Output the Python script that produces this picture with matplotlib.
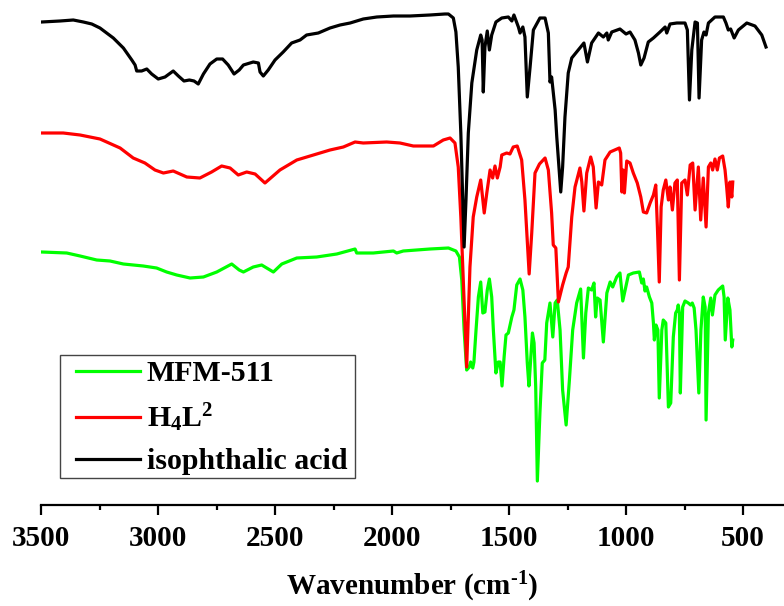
import matplotlib
matplotlib.use("Agg")
import matplotlib.pyplot as plt
from matplotlib.patches import Rectangle
from matplotlib.ticker import MultipleLocator

plt.rcParams['font.family'] = ['Liberation Serif', 'DejaVu Serif']
plt.rcParams['font.weight'] = 'bold'
plt.rcParams['mathtext.fontset'] = 'custom'
plt.rcParams['mathtext.rm'] = 'Liberation Serif:bold'
plt.rcParams['mathtext.it'] = 'Liberation Serif:bold'
plt.rcParams['mathtext.bf'] = 'Liberation Serif:bold'

# FT-IR spectra, stacked with vertical offsets (transmittance, a.u.)
iso_wn = [3497, 3419, 3362, 3319, 3283, 3248, 3191, 3148, 3112, 3098, 3091, 3070, 3048, 3027, 2999,
          2970, 2935, 2913, 2889, 2866, 2846, 2828, 2806, 2778, 2749, 2724, 2700, 2675, 2653, 2635,
          2593, 2571, 2564, 2550, 2529, 2500, 2465, 2429, 2393, 2365, 2315, 2265, 2222, 2179, 2123,
          2065, 1994, 1923, 1838, 1774, 1759, 1738, 1727, 1717, 1706, 1698, 1692, 1684, 1674, 1659,
          1638, 1621, 1615, 1610, 1603, 1593, 1584, 1574, 1556, 1531, 1503, 1488, 1479, 1460, 1453,
          1441, 1432, 1422, 1410, 1396, 1368, 1346, 1332, 1325, 1318, 1303, 1296, 1279, 1271, 1261,
          1247, 1232, 1211, 1180, 1165, 1147, 1118, 1097, 1082, 1076, 1061, 1026, 1000, 983, 962,
          947, 937, 923, 905, 883, 855, 833, 826, 812, 783, 748, 738, 729, 719, 705,
          695, 688, 677, 667, 658, 648, 620, 584, 573, 563, 553, 538, 520, 484, 449,
          420, 402]
iso_t = [494, 495, 496, 494, 492, 488, 478, 468, 456, 451, 445, 445, 447, 442, 437,
         439, 445, 440, 435, 436, 435, 432, 442, 452, 457, 457, 451, 442, 446, 451,
         454, 453, 444, 440, 446, 456, 464, 473, 476, 481, 483, 488, 491, 493, 497,
         499, 500, 500, 501, 502, 502, 498, 484, 449, 383, 316, 269, 316, 383, 433,
         466, 481, 476, 424, 469, 485, 466, 481, 494, 498, 499, 495, 501, 489, 483,
         489, 479, 419, 449, 486, 498, 498, 483, 434, 439, 406, 379, 324, 349, 399,
         443, 458, 464, 473, 454, 473, 483, 479, 483, 476, 484, 487, 482, 484, 476,
         463, 451, 458, 474, 478, 484, 489, 483, 492, 493, 493, 486, 416, 466, 494,
         493, 418, 476, 484, 481, 493, 499, 499, 493, 486, 487, 478, 486, 493, 490,
         481, 469]

h4l2_wn = [3497, 3405, 3333, 3248, 3162, 3106, 3056, 3013, 2977, 2935, 2877, 2821, 2771, 2728, 2692,
           2657, 2621, 2585, 2543, 2479, 2407, 2336, 2265, 2208, 2158, 2123, 2023, 1966, 1909, 1823,
           1781, 1752, 1731, 1717, 1706, 1681, 1667, 1653, 1638, 1621, 1612, 1606, 1595, 1581, 1570,
           1560, 1550, 1538, 1531, 1510, 1496, 1482, 1465, 1446, 1432, 1414, 1403, 1389, 1370, 1346,
           1332, 1318, 1311, 1300, 1289, 1271, 1256, 1247, 1232, 1218, 1197, 1189, 1180, 1168, 1151,
           1140, 1128, 1118, 1104, 1090, 1068, 1029, 1023, 1018, 1012, 1007, 997, 983, 969, 952,
           937, 926, 912, 897, 883, 873, 866, 858, 850, 841, 830, 819, 812, 802, 791,
           781, 772, 762, 748, 738, 726, 715, 705, 691, 681, 670, 658, 648, 638, 630,
           620, 610, 601, 587, 577, 570, 563, 556, 548, 544]
h4l2_t = [383, 383, 381, 377, 368, 358, 353, 346, 343, 345, 339, 338, 344, 350, 348,
          341, 344, 342, 333, 346, 356, 361, 366, 369, 374, 373, 374, 373, 370, 370,
          376, 378, 373, 349, 299, 149, 249, 299, 319, 336, 316, 303, 323, 346, 338,
          350, 338, 349, 361, 363, 362, 369, 370, 356, 316, 242, 283, 343, 352, 358,
          346, 303, 271, 268, 214, 231, 243, 249, 299, 329, 348, 334, 305, 343, 359,
          349, 308, 334, 331, 356, 364, 368, 363, 324, 346, 323, 355, 353, 343, 333,
          319, 304, 303, 313, 321, 331, 289, 234, 309, 326, 336, 316, 329, 306, 333,
          336, 236, 333, 336, 321, 351, 353, 306, 349, 296, 338, 289, 349, 353, 346,
          357, 346, 358, 360, 346, 329, 309, 334, 319, 334]

mfm_wn = [3497, 3390, 3333, 3262, 3205, 3148, 3063, 3006, 2963, 2920, 2863, 2806, 2749, 2685, 2653,
          2635, 2593, 2557, 2507, 2471, 2407, 2322, 2236, 2158, 2151, 2080, 1994, 1980, 1952, 1838,
          1759, 1727, 1712, 1702, 1692, 1681, 1670, 1664, 1655, 1650, 1641, 1631, 1621, 1612, 1603,
          1593, 1584, 1574, 1567, 1556, 1546, 1538, 1530, 1521, 1513, 1503, 1488, 1479, 1467, 1453,
          1441, 1432, 1422, 1415, 1407, 1400, 1393, 1386, 1379, 1368, 1358, 1347, 1339, 1325, 1313,
          1303, 1294, 1282, 1271, 1256, 1242, 1228, 1211, 1194, 1182, 1172, 1161, 1147, 1137, 1130,
          1123, 1111, 1097, 1082, 1068, 1057, 1040, 1026, 1014, 1004, 990, 969, 943, 933, 926,
          919, 912, 900, 890, 883, 879, 872, 864, 858, 847, 841, 830, 819, 809, 798,
          788, 781, 777, 772, 768, 758, 748, 734, 724, 717, 709, 701, 689, 680, 670,
          662, 658, 648, 638, 631, 620, 606, 587, 581, 576, 565, 556, 548, 544]
mfm_t = [264, 263, 260, 256, 255, 252, 250, 248, 244, 241, 238, 239, 244, 252, 246,
         244, 249, 251, 244, 252, 258, 259, 262, 267, 263, 263, 265, 263, 265, 267,
         268, 265, 259, 236, 186, 146, 149, 154, 148, 154, 186, 219, 234, 203, 204,
         226, 237, 219, 186, 143, 154, 154, 130, 159, 181, 183, 199, 206, 231, 237,
         226, 199, 153, 130, 159, 183, 173, 129, 35, 103, 153, 156, 193, 213, 179,
         213, 216, 186, 126, 91, 136, 186, 213, 227, 158, 203, 228, 226, 233, 199,
         218, 216, 174, 223, 234, 229, 239, 243, 215, 226, 241, 243, 244, 233, 237,
         225, 229, 219, 213, 193, 176, 191, 186, 118, 186, 196, 193, 109, 113, 179,
         203, 206, 211, 203, 123, 209, 215, 213, 211, 213, 208, 186, 123, 186, 219,
         209, 96, 203, 218, 201, 221, 226, 230, 219, 176, 218, 206, 169, 176]

labels = ["MFM-511", "H$_4$L$^2$", "isophthalic acid"]
colors = ["#00FF00", "#FF0000", "#000000"]

W, H = 784, 606
fig = plt.figure(figsize=(W / 100, H / 100), dpi=100)
ax = fig.add_axes([41 / W, 101 / H, 743 / W, 505 / H])

for wn, t, lab, c in zip([mfm_wn, h4l2_wn, iso_wn], [mfm_t, h4l2_t, iso_t], labels, colors):
    ax.plot(wn, t, color=c, lw=2.3, label=lab, solid_joinstyle='round')

ax.set_xlim(3500, 325)
ax.set_ylim(11, 516)

for s in ("left", "right", "top"):
    ax.spines[s].set_visible(False)
ax.spines["bottom"].set_linewidth(1.6)
ax.set_yticks([])
ax.xaxis.set_major_locator(MultipleLocator(500))
ax.xaxis.set_minor_locator(MultipleLocator(250))
ax.tick_params(axis='x', which='major', direction='out', length=7.5, width=1.6,
               labelsize=21, pad=7)
ax.tick_params(axis='x', which='minor', direction='out', length=3.8, width=1.6)
for lbl in ax.get_xticklabels():
    lbl.set_fontweight('bold')

ax.set_xlabel("Wavenumber (cm$^{\\text{-1}}$)", fontsize=21, fontweight='bold', labelpad=13)

# legend entries without their own frame; a plain box is drawn around them
leg = ax.legend(loc='upper left', bbox_to_anchor=(76 / W, 1 - 360 / H),
                bbox_transform=fig.transFigure, frameon=False,
                handlelength=2.15, handletextpad=0.22, labelspacing=0.48, borderpad=0,
                borderaxespad=0, prop={'weight': 'bold', 'size': 21.5})
for line in leg.get_lines():
    line.set_linewidth(2.3)
fig.patches.append(Rectangle((60 / W, 1 - 478 / H), 295 / W, 123 / H,
                             transform=fig.transFigure, fill=False,
                             edgecolor='#444444', linewidth=1.0))

fig.savefig("out.png", dpi=100)
